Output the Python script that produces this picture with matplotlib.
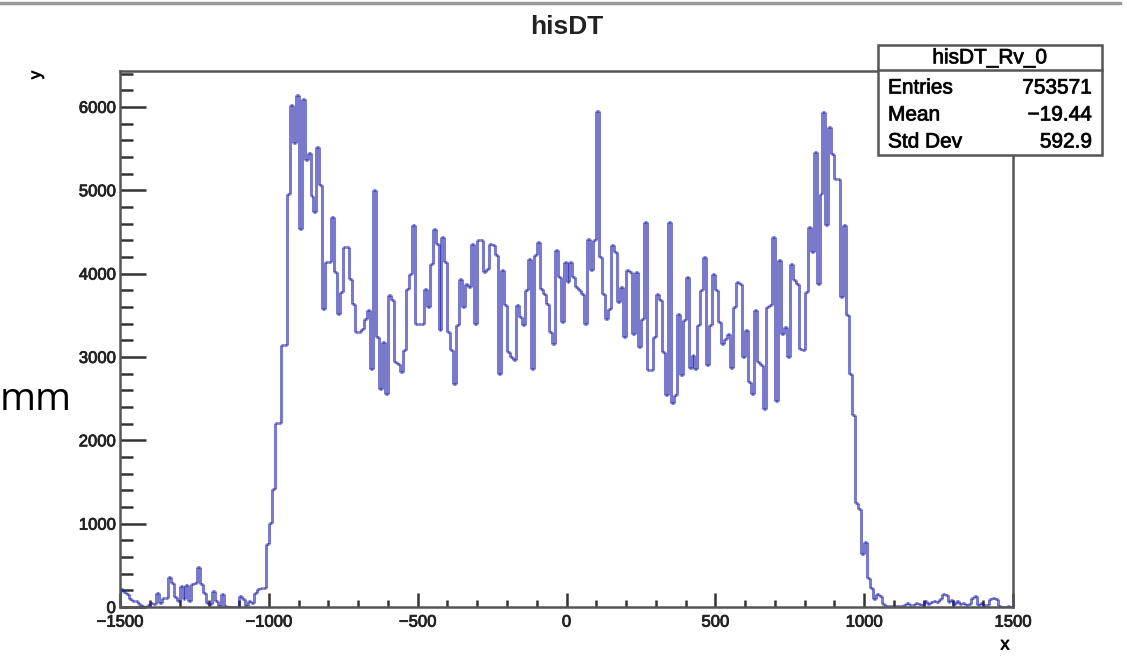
import numpy as np
import matplotlib
matplotlib.use("Agg")
import matplotlib.pyplot as plt
import matplotlib.patheffects as pe
from matplotlib.patches import Rectangle
from matplotlib.lines import Line2D
from matplotlib.ticker import MultipleLocator

plt.rcParams['font.family'] = ['Liberation Sans', 'DejaVu Sans']

# histogram hisDT: 300 bins from -1500 to 1500
x_min, x_max = -1500, 1500
counts = [
    210, 180, 150, 90, 70, 70, 30, 10, 0, 20,
    50, 30, 170, 50, 110, 110, 360, 290, 120, 70,
    250, 90, 260, 70, 270, 290, 480, 280, 170, 50,
    30, 190, 70, 10, 150, 10, 0, 0, 0, 0,
    130, 90, 10, 70, 50, 170, 210, 230, 230, 750,
    1010, 1420, 2210, 2210, 3140, 3140, 4960, 6020, 5570, 6140,
    4530, 6100, 5360, 5450, 4930, 4740, 5520, 5060, 3580, 4140,
    4140, 4680, 4020, 3520, 3780, 4320, 4320, 3940, 3640, 3300,
    3300, 3340, 3460, 3560, 2860, 5000, 3240, 2620, 3180, 2560,
    3740, 3680, 2940, 2920, 2820, 3080, 3820, 4000, 4580, 3400,
    3400, 3400, 3820, 3600, 4120, 4540, 4360, 3320, 4440, 4140,
    3300, 3080, 2680, 3380, 3940, 3600, 3880, 3840, 4360, 3400,
    4400, 4400, 4020, 4060, 4360, 4340, 4220, 2800, 4040, 3620,
    3060, 3000, 2960, 3620, 3480, 3380, 3800, 4180, 2860, 4220,
    4380, 3820, 3760, 3640, 3300, 3160, 4280, 3960, 3420, 4140,
    3900, 4140, 3960, 3840, 3800, 3760, 3400, 4420, 4040, 4400,
    5950, 4200, 3760, 3460, 3580, 4340, 4260, 3660, 3840, 3240,
    4040, 4020, 3280, 4020, 3120, 3460, 4620, 2840, 2840, 3240,
    3760, 3680, 3060, 2540, 4620, 2450, 2540, 3520, 2780, 3440,
    3960, 2870, 3020, 2850, 3380, 3800, 4200, 2900, 3380, 4000,
    3800, 3420, 3160, 3220, 3280, 2870, 3600, 3900, 3880, 3000,
    3320, 2700, 2550, 3560, 2940, 2900, 2375, 3600, 3620, 4440,
    2470, 4160, 3280, 3360, 3000, 4120, 3920, 3880, 3100, 3080,
    3780, 4560, 4260, 5460, 3880, 4960, 5940, 4580, 5760, 5440,
    5140, 5140, 3720, 4580, 3500, 2800, 2300, 1250, 1170, 640,
    780, 350, 230, 100, 150, 130, 30, 10, 10, 10,
    10, 10, 10, 20, 50, 20, 20, 50, 40, 20,
    70, 30, 60, 70, 60, 90, 150, 140, 60, 80,
    40, 70, 30, 50, 20, 30, 110, 130, 20, 50,
    20, 20, 100, 110, 90, 10, 0, 0, 10, 0,
]
x_ticks = [-1500, -1000, -500, 0, 500, 1000, 1500]
x_tick_labels = ["\u22121500", "\u22121000", "\u2212500", "0", "500", "1000", "1500"]
y_ticks = [0, 1000, 2000, 3000, 4000, 5000, 6000]

stats_title = "hisDT_Rv_0"
stats_names = ["Entries", "Mean", "Std Dev"]
stats_values = ["753571", "\u221219.44", "592.9"]

counts = np.array(counts, dtype=float)
edges = np.linspace(x_min, x_max, len(counts) + 1)

W, H = 1127, 657
fig = plt.figure(figsize=(W / 100, H / 100), dpi=100)
ax = fig.add_axes([120 / W, 1 - 607 / H, (1013 - 120) / W, (607 - 71) / H])

# slightly thicker strokes for text, the screenshot is blurry
bold = [pe.withStroke(linewidth=0.6, foreground="#222222")]

# step outline drawn as separate segments so corners overlap like ROOT's
line_col = "#1c1ca8"
ax.hlines(counts, edges[:-1], edges[1:], color=line_col, alpha=0.58, lw=2.0)
v_lo = np.minimum(np.r_[0, counts], np.r_[counts, 0])
v_hi = np.maximum(np.r_[0, counts], np.r_[counts, 0])
ax.vlines(edges, v_lo, v_hi, color=line_col, alpha=0.58, lw=2.2)

ax.set_xlim(x_min, x_max)
ax.set_ylim(0, 6430)
ax.set_xticks(x_ticks)
ax.set_xticklabels(x_tick_labels)
ax.set_yticks(y_ticks)
ax.xaxis.set_minor_locator(MultipleLocator(100))
ax.yaxis.set_minor_locator(MultipleLocator(200))
ax.tick_params(axis="x", which="major", direction="in", length=10, width=1.8,
               color="#333333", labelsize=12, pad=5.5, top=False, labelcolor="#222222")
ax.tick_params(axis="x", which="minor", direction="in", length=5, width=1.8,
               color="#333333", top=False)
ax.tick_params(axis="y", which="major", direction="in", length=19, width=1.8,
               color="#333333", labelsize=12, pad=3, right=False, labelcolor="#222222")
ax.tick_params(axis="y", which="minor", direction="in", length=9, width=1.8,
               color="#333333", right=False)
for lab in ax.get_xticklabels() + ax.get_yticklabels():
    lab.set_path_effects(bold)
for s in ax.spines.values():
    s.set_color("#555555")
    s.set_linewidth(1.8)

# titles and axis names (ROOT style)
fig.text(567 / W, 1 - 27 / H, "hisDT", ha="center", va="center", fontsize=19,
         weight="bold", color="#222222")
fig.text(36 / W, 1 - 75 / H, "y", ha="center", va="center", fontsize=12, rotation=90,
         path_effects=bold)
fig.text(1005 / W, 1 - 645 / H, "x", ha="center", va="center", fontsize=13,
         path_effects=bold)

# stats box
bx0, bx1, by0, by1 = 878, 1102, 45, 155
fig.add_artist(Rectangle((bx0 / W, 1 - by1 / H), (bx1 - bx0) / W, (by1 - by0) / H,
                         transform=fig.transFigure, facecolor="white",
                         edgecolor="#555555", lw=1.8, zorder=5))
fig.add_artist(Line2D([bx0 / W, bx1 / W], [1 - 70 / H, 1 - 70 / H],
                      transform=fig.transFigure, color="#555555", lw=1.8, zorder=6))
fig.text((bx0 + bx1) / 2 / W, 1 - 58 / H, stats_title, ha="center", va="center",
         fontsize=15, zorder=7, path_effects=bold)
for k, (nm, val) in enumerate(zip(stats_names, stats_values)):
    yy = 1 - (88 + k * 27) / H
    fig.text(888 / W, yy, nm, ha="left", va="center", fontsize=15, zorder=7,
             path_effects=bold)
    fig.text(1092 / W, yy, val, ha="right", va="center", fontsize=15, zorder=7,
             path_effects=bold)

# leftovers of the slide around the screenshot
fig.add_artist(Line2D([0, 1120 / W], [1 - 3 / H, 1 - 3 / H], transform=fig.transFigure,
                      color="#9a9a9a", lw=2.5))
fig.text(0 / W, 1 - 400 / H, "mm", ha="left", va="center", fontsize=28,
         family=["Open Sans", "DejaVu Sans"])

fig.savefig("out.png", dpi=100)
